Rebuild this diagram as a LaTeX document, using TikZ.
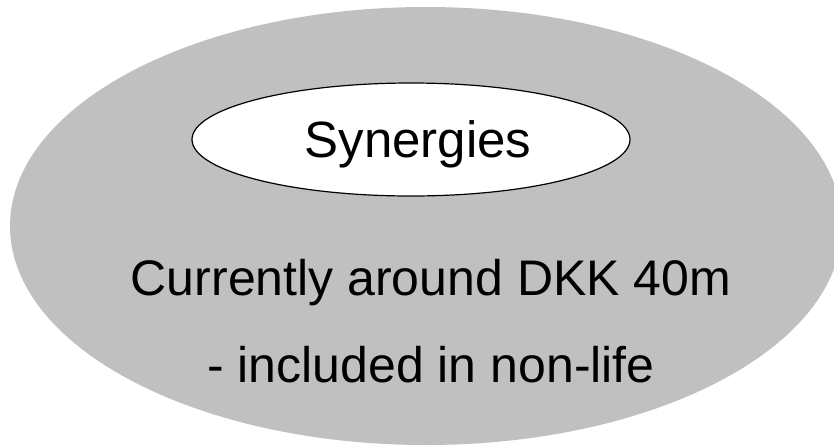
\documentclass[tikz,border=0pt]{standalone}
\usepackage{fontspec}
\setmainfont{Liberation Sans}
\definecolor{discgray}{HTML}{C0C0C0}
\tikzset{
  outerdisc/.style={ellipse, fill=discgray, draw=none, inner sep=0pt},
  titleoval/.style={ellipse, fill=white, draw=black, line width=1.2pt, inner sep=0pt},
  bigtext/.style={anchor=base, inner sep=0pt, font=\fontsize{50}{60}\selectfont},
  titletext/.style={anchor=base, inner sep=0pt, font=\fontsize{51}{60}\selectfont},
}
\usetikzlibrary{shapes.geometric}
\begin{document}
\begin{tikzpicture}[x=1pt, y=-1pt]
  \useasboundingbox (0,0) rectangle (834,445);
  \begin{scope}
    \clip (0,0) rectangle (834,445);
    \node[outerdisc, minimum width=832pt, minimum height=438pt] (disc) at (426,226) {};
  \end{scope}
  \node[titleoval, minimum width=438pt, minimum height=113pt] (oval) at (411,139.5) {};
  \node[titletext] (title) at (418,157) {Synergies};
  \node[bigtext] (amount) at (431,295) {Currently around DKK 40m};
  \node[bigtext] (note) at (431,382) {- included in non-life};
\end{tikzpicture}
\end{document}
